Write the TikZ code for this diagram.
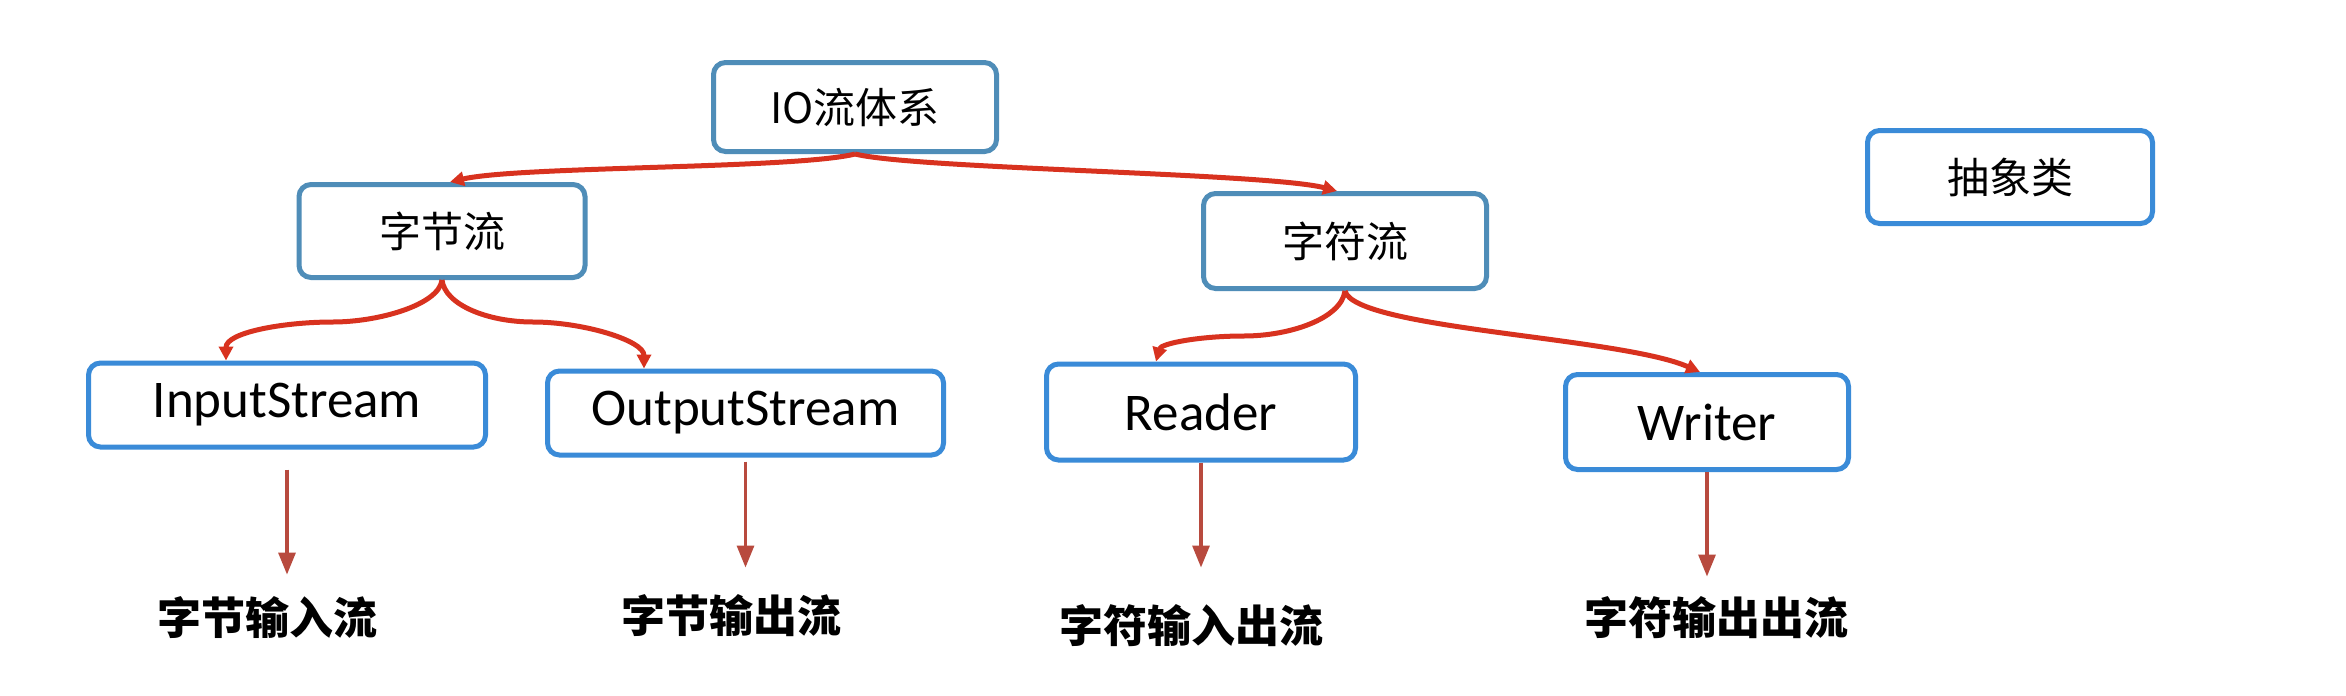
\documentclass[tikz,border=0pt]{standalone}
\usepackage{fontspec}
\setmainfont{Carlito}
\newfontfamily\cjk{Noto Sans CJK SC}
\usetikzlibrary{arrows.meta}
\definecolor{boxA}{HTML}{4F8DB8}
\definecolor{boxB}{HTML}{3A8BD8}
\definecolor{curvecol}{HTML}{D8321F}
\definecolor{varr}{HTML}{B84A3E}
\begin{document}
\begin{tikzpicture}[x=0.5pt,y=-0.5pt,
  box/.style={draw, line width=2.5pt, rounded corners=6pt, fill=white, inner sep=0pt, align=center},
  topbox/.style={box, draw=boxA, font=\cjk\fontsize{21pt}{25pt}\selectfont},
  absbox/.style={box, draw=boxB, font=\cjk\fontsize{21pt}{25pt}\selectfont},
  leaf/.style={box, draw=boxB, font=\fontsize{26.5pt}{30pt}\selectfont},
  lbl/.style={inner sep=0pt, font=\cjk\bfseries\fontsize{22pt}{26pt}\selectfont},
  curv/.style={draw=curvecol, line width=2.5pt, -{Triangle[length=7pt,width=7pt]}},
  varrow/.style={draw=varr, line width=1.6pt, -{Triangle[length=11pt,width=8.5pt]}}]
\useasboundingbox[fill=white] (0,0) rectangle (2346,696);

\node[topbox, minimum width=141.5pt, minimum height=44.5pt] (io) at (855,107) {IO流体系};
\node[topbox, minimum width=143pt, minimum height=46.5pt] (byte) at (442,231) {字节流};
\node[topbox, minimum width=141.5pt, minimum height=47.5pt] (char) at (1345,241) {字符流};
\node[absbox, minimum width=142.5pt, minimum height=46.5pt] (abs) at (2010,177) {抽象类};

\node[leaf, minimum width=198.5pt, minimum height=42pt] (in) at (287,405) {InputStream};
\node[leaf, minimum width=198pt, minimum height=42pt] (out) at (745.5,413) {OutputStream};
\node[leaf, minimum width=154.5pt, minimum height=48pt] (rd) at (1201,412) {Reader};
\node[leaf, minimum width=141.5pt, minimum height=47.5pt] (wr) at (1707,422) {Writer};

\node[lbl] (l1) at (267,618) {字节输入流};
\node[lbl] (l2) at (731,616) {字节输出流};
\node[lbl] (l3) at (1191,626) {字符输入出流};
\node[lbl] (l4) at (1716,618) {字符输出出流};

\draw[curv] (io.south) .. controls +(-60,15) and +(69,-16) .. ([xshift=4pt]byte.north);
\draw[curv] (io.south) .. controls +(60,15) and +(-70,-18) .. ([xshift=-4pt]char.north);
\draw[curv] (byte.south) .. controls +(-3,25) and +(45,0) .. ++(-109,42)
  .. controls +(-50,0) and +(0,-28) .. ([xshift=-30.5pt]in.north);
\draw[curv] (byte.south) .. controls +(3,25) and +(-45,0) .. ++(91,42)
  .. controls +(50,0) and +(0,-28) .. ([xshift=-50.75pt]out.north);
\draw[curv] (char.south) .. controls +(-4,28) and +(45,0) .. ++(-101,45)
  .. controls +(-45,0) and +(5,-18) .. ([xshift=-22.5pt]rd.north);
\draw[curv] (char.south) .. controls +(10,38) and +(-80,-35) .. ([xshift=-3.5pt]wr.north);

\draw[varrow, shorten <=10pt, shorten >=11pt] (in.south) -- (in.south |- l1.north);
\draw[varrow, shorten <=2pt, shorten >=13.5pt] (out.south) -- (out.south |- l2.north);
\draw[varrow, shorten >=18.5pt] (rd.south) -- (rd.south |- l3.north);
\draw[varrow, shorten >=10pt] (wr.south) -- (wr.south |- l4.north);
\end{tikzpicture}
\end{document}
